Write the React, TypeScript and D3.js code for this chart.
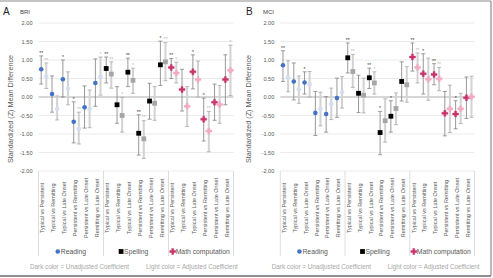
import React from "react";
import * as d3 from "d3";

// ---------- data ----------
const categories = [
  "Typical vs Persistent", "Typical vs Remitting", "Typical vs Late Onset",
  "Persistent vs Remitting", "Persistent vs Late Onset", "Remitting vs Late Onset",
];
const groups = ["Reading", "Spelling", "Math computation"];
const yTicks = [2, 1.5, 1, 0.5, 0, -0.5, -1, -1.5, -2];

// BRI (panel A) — 18 values: Reading x6, Spelling x6, Math x6
const briDark = [0.75, 0.08, 0.48, -0.67, -0.28, 0.38, 0.77, -0.21, 0.67, -0.98, -0.11, 0.87, 0.80, 0.20, 0.68, -0.60, -0.14, 0.47];
const briDarkLo = [0.35, -0.41, 0.0, -1.24, -0.84, -0.25, 0.38, -0.71, 0.28, -1.57, -0.60, 0.31, 0.50, -0.38, 0.22, -1.19, -0.63, -0.21];
const briDarkHi = [1.11, 0.57, 1.0, -0.13, 0.30, 1.03, 1.08, 0.28, 1.05, -0.48, 0.37, 1.51, 1.04, 0.75, 1.14, -0.03, 0.35, 1.14];
const briLight = [0.55, -0.32, 0.23, -0.86, -0.32, 0.54, 0.62, -0.50, 0.45, -1.13, -0.17, 0.95, 0.65, -0.25, 0.47, -0.92, -0.20, 0.72];
const briLightLo = [0.23, -0.62, -0.21, -1.27, -0.83, 0.05, 0.24, -0.95, 0.10, -1.66, -0.63, 0.44, 0.38, -0.80, 0.0, -1.48, -0.71, 0.04];
const briLightHi = [0.92, 0.03, 0.68, -0.41, 0.19, 1.08, 0.95, -0.01, 0.78, -0.64, 0.28, 1.47, 0.94, 0.28, 0.97, -0.39, 0.31, 1.40];
const briDarkSig = ["**", "", "*", "*", "", "", "**", "", "**", "**", "", "*", "**", "", "*", "*", "", ""];
const briLightSig = ["**", "", "", "**", "", "*", "**", "*", "*", "**", "", "**", "*", "", "", "**", "", "*"];

// MCI (panel B)
const mciDark = [0.86, 0.42, 0.39, -0.43, -0.46, -0.03, 1.06, 0.10, 0.52, -0.96, -0.52, 0.42, 1.08, 0.63, 0.61, -0.44, -0.46, -0.02];
const mciDarkLo = [0.42, -0.08, 0.08, -1.04, -0.95, -0.55, 0.65, -0.42, 0.23, -1.56, -0.95, -0.11, 0.70, 0.08, 0.33, -1.05, -0.86, -0.58];
const mciDarkHi = [1.25, 0.92, 0.68, 0.15, 0.01, 0.51, 1.46, 0.59, 0.78, -0.39, -0.10, 0.95, 1.46, 1.17, 0.90, 0.15, -0.10, 0.54];
const mciLight = [0.53, 0.21, 0.34, -0.32, -0.19, 0.13, 0.69, 0.05, 0.38, -0.64, -0.31, 0.33, 0.80, 0.48, 0.49, -0.32, -0.32, 0.01];
const mciLightLo = [0.14, -0.17, 0.0, -0.78, -0.61, -0.30, 0.26, -0.43, 0.08, -1.22, -0.75, -0.14, 0.38, -0.09, 0.17, -0.96, -0.72, -0.55];
const mciLightHi = [0.98, 0.57, 0.69, 0.13, 0.24, 0.55, 1.15, 0.51, 0.68, -0.05, 0.11, 0.82, 1.19, 1.05, 0.80, 0.32, 0.10, 0.56];
const mciDarkSig = ["**", "", "*", "", "", "", "**", "", "**", "*", "*", "", "**", "*", "**", "", "*", ""];
const mciLightSig = ["", "", "", "", "", "", "**", "", "*", "", "", "", "**", "", "**", "", "", ""];

const darkColors = ["#4472C4", "#000000", "#C8336A"];
const lightColors = ["#D5DDF0", "#A6A6A6", "#F2A9C1"];

const FONT = "'Liberation Sans', Arial, sans-serif";

type PanelProps = {
  letter: string; title: string;
  left: number; right: number; titleX: number; letterX: number;
  dark: number[]; darkLo: number[]; darkHi: number[];
  light: number[]; lightLo: number[]; lightHi: number[];
  darkSig: string[]; lightSig: string[];
};

function Marker({ g, x, y, color }: { g: number; x: number; y: number; color: string }) {
  if (g === 0) return <circle cx={x} cy={y} r={2.3} fill={color} />;
  if (g === 1) return <rect x={x - 2.4} y={y - 2.4} width={4.8} height={4.8} fill={color} />;
  const p = d3.symbol(d3.symbolCross, 20)() as string;
  return <path d={p} transform={`translate(${x},${y})`} fill={color} stroke={color} strokeWidth={0.4} strokeLinejoin="round" />;
}

function Panel(p: PanelProps) {
  const yTop = 23, yBot = 171;
  const idx = d3.range(18);
  const x = d3.scaleBand<number>().domain(idx).range([p.left, p.right]).padding(0);
  const y = d3.scaleLinear().domain([-2, 2]).range([yBot, yTop]);
  const bw = x.bandwidth();
  const dx = (i: number) => (x(i) as number) + bw * 0.25;
  const lx = (i: number) => (x(i) as number) + bw * 0.72;
  const groupW = bw * 6;
  const cap = 2;

  const bar = (cx: number, lo: number, hi: number, light: boolean, key: string) => (
    <g key={key}>
      <line x1={cx} x2={cx} y1={y(lo)} y2={y(hi)} stroke={light ? "#D2D2D2" : "#858585"} strokeWidth={light ? 2 : 0.85} />
      <line x1={cx - cap} x2={cx + cap} y1={y(lo)} y2={y(lo)} stroke={light ? "#A8A8A8" : "#858585"} strokeWidth={0.8} />
      <line x1={cx - cap} x2={cx + cap} y1={y(hi)} y2={y(hi)} stroke={light ? "#A8A8A8" : "#858585"} strokeWidth={0.8} />
    </g>
  );

  return (
    <g fontFamily={FONT}>
      <text x={p.letterX} y={15} fontSize={10} fill="#222">{p.letter}</text>
      <text x={p.letterX + 17} y={14} fontSize={6} fill="#444">{p.title}</text>
      <text transform={`translate(${p.titleX},109) rotate(-90)`} textAnchor="middle" fontSize={7.2} fill="#595959">
        Standardized (Z) Mean Difference
      </text>
      {yTicks.map((t) => (
        <g key={t}>
          <line x1={p.left} x2={p.right} y1={y(t)} y2={y(t)} stroke={t === 0 ? "#A6A6A6" : "#E3E3E3"} strokeWidth={t === 0 ? 0.9 : 0.7} />
          <text x={p.left - 6} y={y(t) + 2} textAnchor="end" fontSize={5.6} fill="#595959">{t.toFixed(2)}</text>
        </g>
      ))}
      {/* category axis separators */}
      {d3.range(4).map((k) => (
        <line key={k} x1={p.left + k * groupW} x2={p.left + k * groupW} y1={yBot} y2={256} stroke="#CFCFCF" strokeWidth={0.7} />
      ))}
      {idx.map((i) => (
        <text key={i} transform={`translate(${(x(i) as number) + bw / 2 + 0.5},208) rotate(-90)`} textAnchor="middle" fontSize={5.5} fill="#595959">
          {categories[i % 6]}
        </text>
      ))}
      {/* error bars */}
      {idx.map((i) => bar(dx(i), p.darkLo[i], p.darkHi[i], false, "d" + i))}
      {idx.map((i) => bar(lx(i), p.lightLo[i], p.lightHi[i], true, "l" + i))}
      {/* significance */}
      {idx.map((i) => p.darkSig[i] ? (
        <text key={"ds" + i} x={dx(i)} y={y(p.darkHi[i]) - 1.2} textAnchor="middle" fontSize={5} fill="#333">{p.darkSig[i]}</text>
      ) : null)}
      {idx.map((i) => p.lightSig[i] ? (
        <text key={"ls" + i} x={lx(i)} y={y(p.lightHi[i]) - 1.2} textAnchor="middle" fontSize={5} fill="#B8B8B8">{p.lightSig[i]}</text>
      ) : null)}
      {/* markers */}
      {idx.map((i) => <Marker key={"dm" + i} g={Math.floor(i / 6)} x={dx(i)} y={y(p.dark[i])} color={darkColors[Math.floor(i / 6)]} />)}
      {idx.map((i) => <Marker key={"lm" + i} g={Math.floor(i / 6)} x={lx(i)} y={y(p.light[i])} color={lightColors[Math.floor(i / 6)]} />)}
      {/* legend */}
      {groups.map((gname, g) => {
        const w = 6 + gname.length * 3.35;
        const sx = p.left + g * groupW + groupW / 2 - w / 2;
        return (
          <g key={gname}>
            <Marker g={g} x={sx + 1.5} y={251.5} color={darkColors[g]} />
            <text x={sx + 4.5} y={254} fontSize={6.8} fill="#595959">{gname}</text>
          </g>
        );
      })}
      <text x={p.left - 8.5} y={269} fontSize={6.3} fill="#A6A6A6">Dark color = Unadjusted Coefficient</text>
      <text x={p.left + 107.5} y={269} fontSize={6.3} fill="#A6A6A6">Light color = Adjusted Coefficient</text>
    </g>
  );
}

export default function App() {
  return (
    <svg width={493} height={278} style={{ position: "absolute", left: 0, top: 0, background: "#fff" }}>
      <rect x={0} y={0} width={493} height={278} fill="#fff" />
      <Panel letter="A" title="BRI" left={38.5} right={233.5} titleX={13} letterX={3}
        dark={briDark} darkLo={briDarkLo} darkHi={briDarkHi}
        light={briLight} lightLo={briLightLo} lightHi={briLightHi}
        darkSig={briDarkSig} lightSig={briLightSig} />
      <Panel letter="B" title="MCI" left={280.3} right={474.5} titleX={251} letterX={246}
        dark={mciDark} darkLo={mciDarkLo} darkHi={mciDarkHi}
        light={mciLight} lightLo={mciLightLo} lightHi={mciLightHi}
        darkSig={mciDarkSig} lightSig={mciLightSig} />
      <line x1={0} x2={491} y1={1} y2={1} stroke="#8C8C8C" strokeWidth={1.2} />
      <line x1={491} x2={491} y1={1} y2={276} stroke="#8C8C8C" strokeWidth={1.2} />
      <line x1={0} x2={491} y1={276} y2={276} stroke="#6E6E6E" strokeWidth={1.6} />
    </svg>
  );
}
